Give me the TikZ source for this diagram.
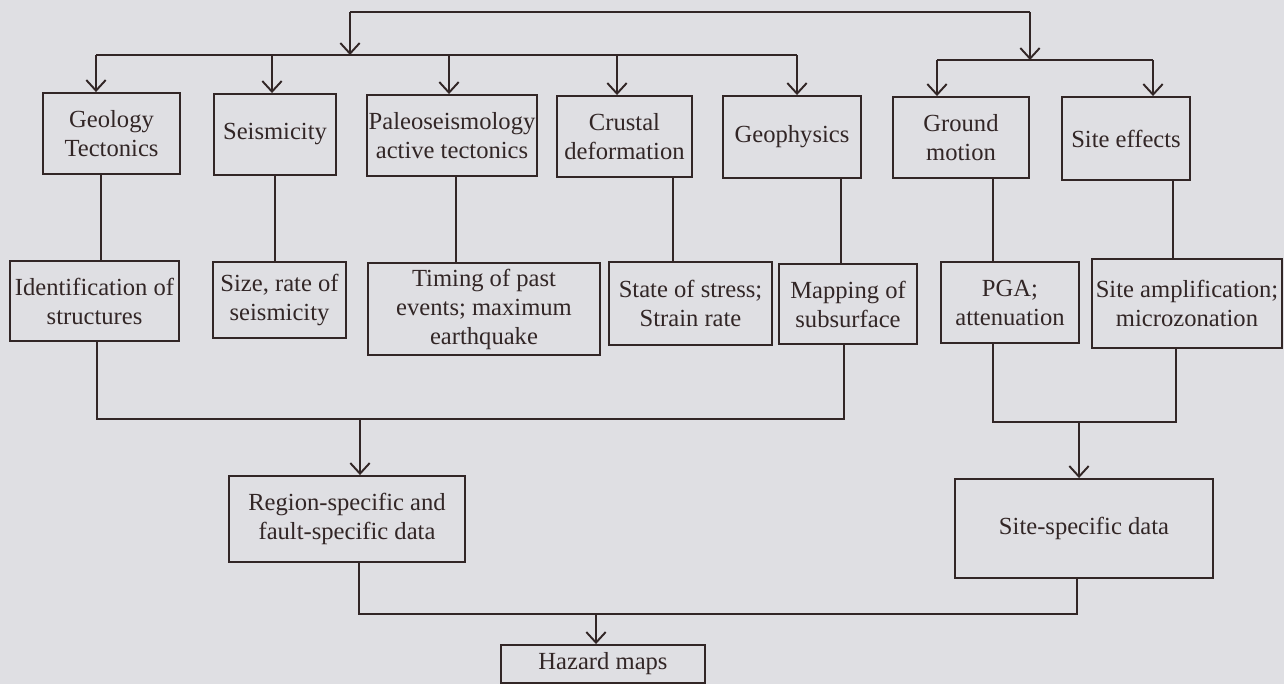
\documentclass[tikz,border=0pt]{standalone}
\usepackage{fontspec}
\setmainfont{Liberation Serif}
\usetikzlibrary{arrows.meta}
\definecolor{paper}{RGB}{223,223,227}
\definecolor{ink}{RGB}{50,38,38}

\begin{document}
\begin{tikzpicture}[
  x=0.02cm, y=-0.02cm,
  every node/.style={font=\fontsize{14}{16.5}\selectfont, align=center, text=ink},
  box/.style={rectangle, draw=ink, line width=1.1pt, inner sep=0pt},
  link/.style={draw=ink, line width=1.1pt},
  arr/.style={link, -{Straight Barb[length=6pt, width=11pt, line width=1.1pt]}}
]
\fill[paper] (0,0) rectangle (1284,684);
\useasboundingbox (0,0) rectangle (1284,684);

% Top row: sources of information
\node[box, minimum width=2.74cm, minimum height=1.62cm] (geo) at (111.5,133.5) {Geology\\Tectonics};
\node[box, minimum width=2.44cm, minimum height=1.62cm] (seis) at (275,134.5) {Seismicity};
\node[box, minimum width=3.40cm, minimum height=1.62cm] (paleo) at (452,135.5) {Paleoseismology\\active tectonics};
\node[box, minimum width=2.70cm, minimum height=1.62cm] (crust) at (624.5,136.5) {Crustal\\deformation};
\node[box, minimum width=2.76cm, minimum height=1.64cm] (geoph) at (792,137) {Geophysics};
\node[box, minimum width=2.72cm, minimum height=1.62cm] (ground) at (961,137.5) {Ground\\motion};
\node[box, minimum width=2.56cm, minimum height=1.66cm] (site) at (1126,138.5) {Site effects};

% Second row: what each one gives
\node[box, minimum width=3.38cm, minimum height=1.60cm] (ident) at (94.5,301) {Identification of\\structures};
\node[box, minimum width=2.66cm, minimum height=1.52cm] (size) at (279.5,300) {Size, rate of\\seismicity};
\node[box, minimum width=4.64cm, minimum height=1.84cm] (timing) at (484,309) {Timing of past\\events;\ maximum\\earthquake};
\node[box, minimum width=3.26cm, minimum height=1.66cm] (state) at (690.5,303.5) {State of stress;\\Strain rate};
\node[box, minimum width=2.76cm, minimum height=1.60cm] (mapping) at (848,304) {Mapping of\\subsurface};
\node[box, minimum width=2.76cm, minimum height=1.62cm] (pga) at (1010,302.5) {PGA;\\attenuation};
\node[box, minimum width=3.80cm, minimum height=1.78cm] (siteamp) at (1187,303.5) {Site amplification;\\microzonation};

% Data sets and result
\node[box, minimum width=4.72cm, minimum height=1.72cm] (region) at (347,519) {Region-specific and\\fault-specific data};
\node[box, minimum width=5.16cm, minimum height=1.98cm] (sitedata) at (1084,528.5) {Site-specific data};
\node[box, minimum width=4.08cm, minimum height=0.76cm] (hazard) at (603,664) {Hazard maps};

% Top distribution lines
\coordinate (topL) at (350,12);
\coordinate (topR) at (1030,12);
\coordinate (busL) at (350,55);
\coordinate (busR) at (1030,60);
\draw[link] (topL) -- (topR);
\draw[arr] (topL) -- (busL);
\draw[arr] (topR) -- (busR);
\coordinate (aGeo) at (96,55);
\coordinate (aSeis) at (272,55);
\coordinate (aPaleo) at (449,55);
\coordinate (aCrust) at (617,55);
\coordinate (aGeoph) at (797,55);
\draw[link] (aGeo) -- (aGeoph);
\draw[arr] (aGeo) -- (aGeo |- geo.north);
\draw[arr] (aSeis) -- (aSeis |- seis.north);
\draw[arr] (aPaleo) -- (aPaleo |- paleo.north);
\draw[arr] (aCrust) -- (aCrust |- crust.north);
\draw[arr] (aGeoph) -- (aGeoph |- geoph.north);
\coordinate (aGround) at (937,60);
\coordinate (aSite) at (1153,60);
\draw[link] (aGround) -- (aSite);
\draw[arr] (aGround) -- (aGround |- ground.north);
\draw[arr] (aSite) -- (aSite |- site.north);

% First row to second row
\draw[link] (geo.south -| 101,0) -- (ident.north -| 101,0);
\draw[link] (seis.south -| 275,0) -- (size.north -| 275,0);
\draw[link] (paleo.south -| 456,0) -- (timing.north -| 456,0);
\draw[link] (crust.south -| 673,0) -- (state.north -| 673,0);
\draw[link] (geoph.south -| 841,0) -- (mapping.north -| 841,0);
\draw[link] (ground.south -| 993,0) -- (pga.north -| 993,0);
\draw[link] (site.south -| 1173,0) -- (siteamp.north -| 1173,0);

% Joins towards the data sets
\coordinate (jL1) at (97,419);
\coordinate (jL2) at (844,419);
\draw[link] (ident.south -| jL1) -- (jL1) -- (jL2) -- (mapping.south -| jL2);
\coordinate (dRegion) at (360,419);
\draw[arr] (dRegion) -- (dRegion |- region.north);
\coordinate (jR1) at (993,422);
\coordinate (jR2) at (1176,422);
\draw[link] (pga.south -| jR1) -- (jR1) -- (jR2) -- (siteamp.south -| jR2);
\coordinate (dSite) at (1079,422);
\draw[arr] (dSite) -- (dSite |- sitedata.north);

% Join towards the maps
\coordinate (jB1) at (359,614);
\coordinate (jB2) at (1077,614);
\draw[link] (region.south -| jB1) -- (jB1) -- (jB2) -- (sitedata.south -| jB2);
\coordinate (dHaz) at (596,614);
\draw[arr] (dHaz) -- (dHaz |- hazard.north);
\end{tikzpicture}
\end{document}
